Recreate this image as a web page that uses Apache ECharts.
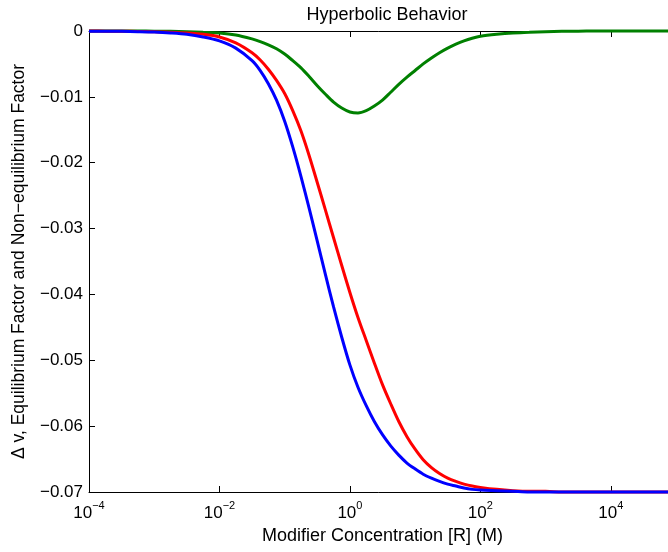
<!DOCTYPE html>
<html>
<head>
<meta charset="utf-8">
<script src="https://cdn.jsdelivr.net/npm/echarts@6/dist/echarts.min.js"></script>
<style>
  html, body { margin: 0; padding: 0; background: #fff; }
  #chart { width: 668px; height: 552px; }
</style>
</head>
<body>
<div id="chart"></div>
<script>
// concentration [R] (M): quarter decades in the flat tails, eighth decades in the middle
var conc = [1e-4, 1.78e-4, 3.16e-4, 5.62e-4, 1e-3, 1.78e-3, 3.16e-3, 5.62e-3, 0.01, 0.0178,
  0.0316, 0.0422, 0.0562, 0.075, 0.1, 0.133, 0.178, 0.237, 0.316, 0.422, 0.562, 0.75,
  1, 1.33, 1.78, 2.37, 3.16, 4.22, 5.62, 7.5, 10, 13.3, 17.8, 23.7, 31.6, 42.2, 56.2, 75, 100,
  178, 316, 562, 1000, 1780, 3160, 5620, 1e4, 1.78e4, 3.16e4, 5.62e4, 1e5];

var deltaV = [-0.00002, -0.00003, -0.00005, -0.0001, -0.00017, -0.0003, -0.0005, -0.0009, -0.0015, -0.0026,
  -0.0045, -0.0060, -0.0080, -0.0105, -0.0137, -0.0176, -0.0221, -0.0269, -0.0319, -0.0370, -0.0419, -0.0465,
  -0.0507, -0.0541, -0.0569, -0.0593, -0.0613, -0.0630, -0.0644, -0.0656, -0.0665, -0.0673, -0.0679, -0.0684, -0.0688, -0.0691, -0.0694, -0.0696, -0.0697,
  -0.0698, -0.0699, -0.0700, -0.0700, -0.0700, -0.0700, -0.0700, -0.0700, -0.0700, -0.0700, -0.0700, -0.0700];

var eqFactor = [-0.00001, -0.00002, -0.00003, -0.00006, -0.0001, -0.0002, -0.0003, -0.0005, -0.0009, -0.0018,
  -0.0033, -0.0044, -0.0058, -0.0075, -0.0095, -0.0121, -0.0152, -0.0189, -0.0230, -0.0272, -0.0314, -0.0356,
  -0.0397, -0.0435, -0.0470, -0.0504, -0.0537, -0.0566, -0.0593, -0.0616, -0.0635, -0.0651, -0.0663, -0.0672, -0.0679, -0.0684, -0.0688, -0.0691, -0.0693,
  -0.0696, -0.0698, -0.0699, -0.0699, -0.0700, -0.0700, -0.0700, -0.0700, -0.0700, -0.0700, -0.0700, -0.0700];

var nonEqFactor = [0, 0, 0, -0.00001, -0.00002, -0.00004, -0.0001, -0.0002, -0.0003, -0.0006,
  -0.0012, -0.0016, -0.0021, -0.0027, -0.0035, -0.0045, -0.0056, -0.0069, -0.0083, -0.0096, -0.0108, -0.0117,
  -0.0123, -0.01245, -0.0121, -0.0114, -0.0105, -0.0093, -0.0081, -0.0070, -0.0060, -0.0050, -0.0041, -0.0033, -0.0026, -0.0020, -0.0015, -0.0011, -0.0008,
  -0.0005, -0.0003, -0.0002, -0.0001, -0.00005, -0.00002, 0, 0, 0, 0, 0, 0];

var font = "Liberation Sans";
var tick = { show: true, inside: true, length: 6, lineStyle: { color: "#000", width: 1 } };

function pairs(ys) {
  return conc.map(function (c, i) { return [c, ys[i]]; });
}

function lineSeries(name, ys, color) {
  return {
    name: name,
    type: "line",
    data: pairs(ys),
    showSymbol: false,
    smooth: 0.3,
    clip: false,
    lineStyle: { color: color, width: 3 }
  };
}

var chart = echarts.init(document.getElementById("chart"));
chart.setOption({
  animation: false,
  backgroundColor: "#fff",
  title: {
    text: "Hyperbolic Behavior",
    left: 382,
    textAlign: "center",
    top: 1,
    textStyle: { color: "#000", fontFamily: font, fontWeight: "normal", fontSize: 18 }
  },
  grid: { left: 89, width: 587, top: 31, height: 461, containLabel: false, outerBoundsMode: "none" },
  xAxis: [
    {
      type: "log",
      logBase: 10,
      min: 1e-4,
      max: 1e5,
      interval: 2,
      position: "bottom",
      name: "Modifier Concentration [R] (M)",
      nameLocation: "middle",
      nameGap: 35,
      nameTextStyle: { color: "#000", fontFamily: font, fontSize: 18 },
      axisLine: { show: true, onZero: false, lineStyle: { color: "#000", width: 1 } },
      axisTick: tick,
      minorTick: { show: false },
      splitLine: { show: false },
      axisLabel: {
        margin: 8,
        color: "#000",
        fontFamily: font,
        lineHeight: 22,
        showMaxLabel: false,
        formatter: function (v) {
          var e = Math.round(Math.log10(v));
          if (e > 4) return "";
          var s = e < 0 ? "\u2212" + Math.abs(e) : String(e);
          return "{b|10}{s|" + s + "}";
        },
        rich: {
          b: { fontSize: 17, fontFamily: font, color: "#000", verticalAlign: "bottom" },
          s: { fontSize: 11, fontFamily: font, color: "#000", verticalAlign: "top" }
        }
      }
    },
    {
      type: "log",
      logBase: 10,
      min: 1e-4,
      max: 1e5,
      interval: 2,
      position: "top",
      axisLine: { show: true, onZero: false, lineStyle: { color: "#000", width: 1 } },
      axisTick: tick,
      axisLabel: { show: false },
      splitLine: { show: false }
    }
  ],
  yAxis: {
    type: "value",
    min: -0.07,
    max: 0,
    interval: 0.01,
    name: "\u0394 v, Equilibrium Factor and Non\u2212equilibrium Factor",
    nameLocation: "middle",
    nameGap: 61,
    nameTextStyle: { color: "#000", fontFamily: font, fontSize: 17.5 },
    axisLine: { show: true, onZero: false, lineStyle: { color: "#000", width: 1 } },
    axisTick: tick,
    splitLine: { show: false },
    axisLabel: {
      margin: 6,
      color: "#000",
      fontFamily: font,
      fontSize: 17,
      formatter: function (v) {
        if (Math.abs(v) < 1e-9) return "0";
        return "\u2212" + Math.abs(v).toFixed(2);
      }
    }
  },
  series: [
    lineSeries("Non-equilibrium Factor", nonEqFactor, "#008000"),
    lineSeries("Equilibrium Factor", eqFactor, "#ff0000"),
    lineSeries("\u0394 v", deltaV, "#0000ff")
  ]
});
</script>
</body>
</html>
